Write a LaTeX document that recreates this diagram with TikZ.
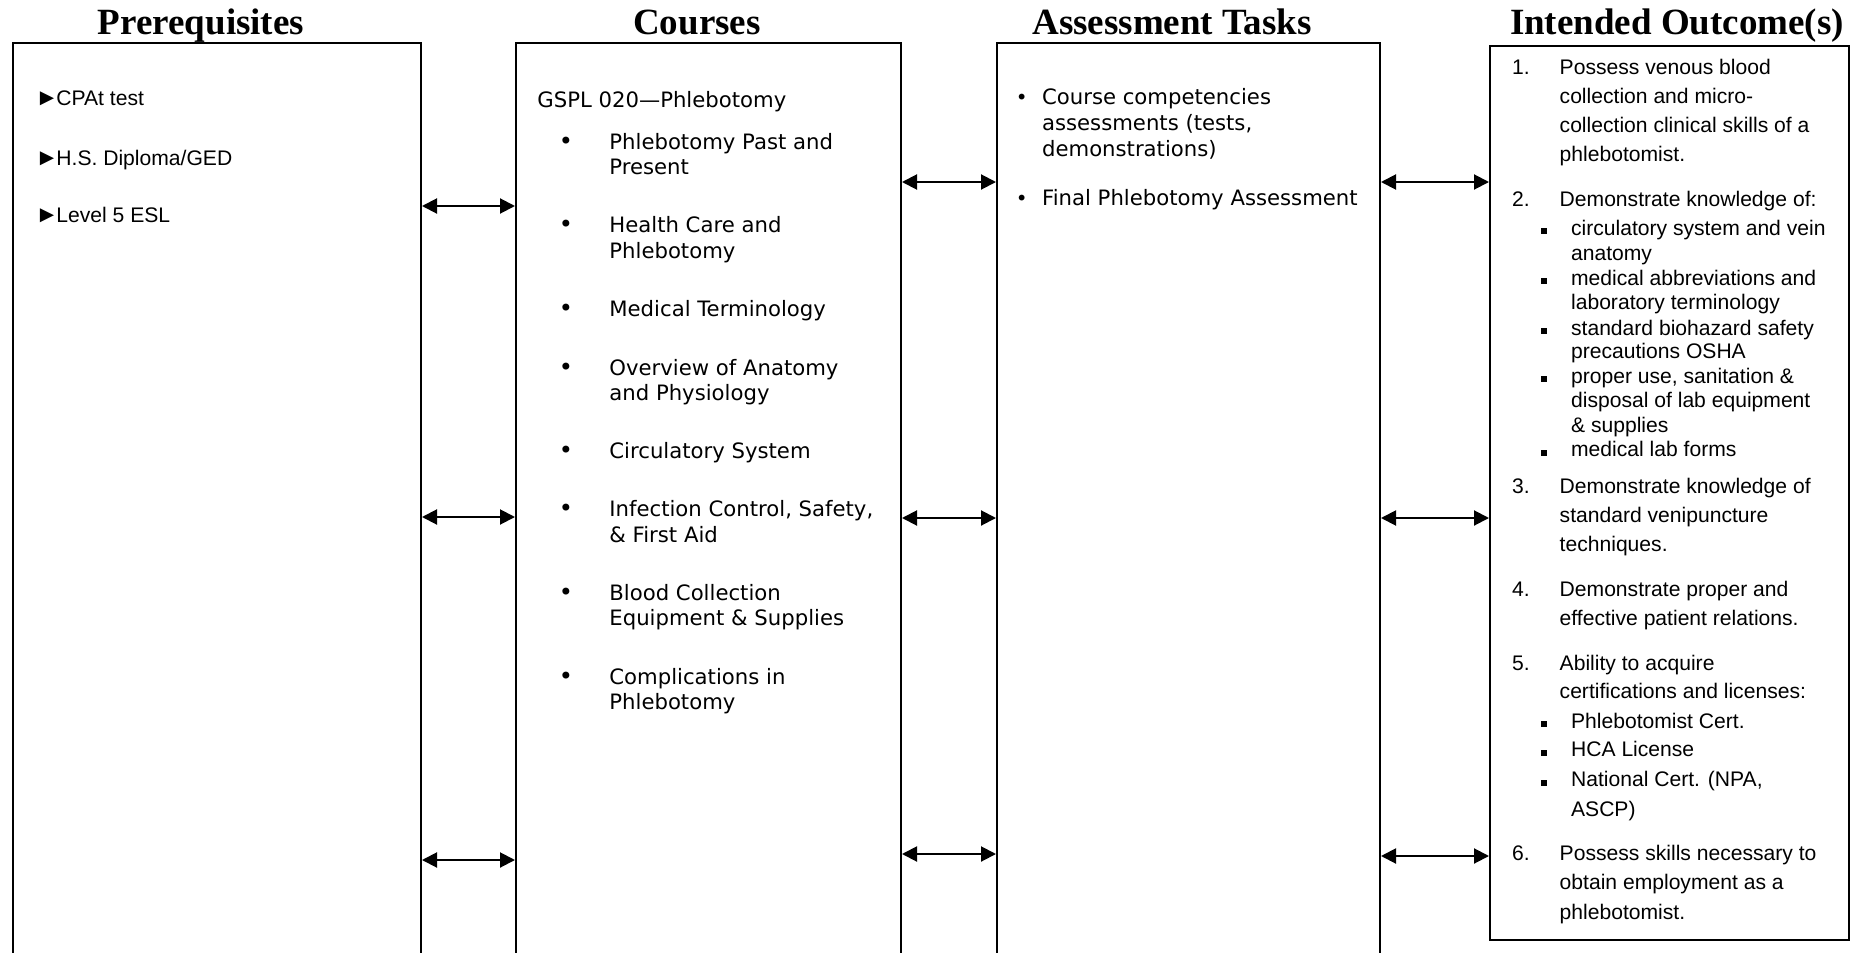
\documentclass[tikz,border=0pt]{standalone}
\usepackage{fontspec}
\setmainfont{Liberation Serif}
\newfontfamily\arialf{Liberation Sans}
\newfontfamily\verdf{DejaVu Sans}
\usetikzlibrary{arrows.meta,fit}
\tikzset{
  box/.style={draw, line width=1pt, inner sep=0pt},
  head/.style={anchor=base, inner sep=0pt, font=\bfseries\fontsize{18.5}{22}\selectfont},
  ar/.style={anchor=base west, inner sep=0pt, font=\arialf\fontsize{10.55}{12}\selectfont},
  vd/.style={anchor=base west, inner sep=0pt, font=\verdf\fontsize{10.6}{12.8}\selectfont},
  vbul/.style={anchor=base, inner sep=0pt, font=\verdf\fontsize{12}{12.8}\selectfont},
  abul/.style={anchor=base, inner sep=0pt, font=\verdf\fontsize{10}{12.8}\selectfont},
  sq/.style={fill=black, inner sep=0pt, minimum size=3pt},
  tri/.style={anchor=base west, inner sep=0pt, font=\arialf\fontsize{11.8}{12}\selectfont},
  dbl/.style={{Triangle[length=7.5pt,width=7.5pt]}-{Triangle[length=7.5pt,width=7.5pt]}, line width=1pt},
}
\begin{document}
\begin{tikzpicture}[x=0.5pt,y=-0.5pt]
\useasboundingbox (0,0) rectangle (1854,953);
\clip (0,0) rectangle (1854,953);

% headings
\node[head] (h1) at (201,34) {Prerequisites};
\node[head] (h2) at (697,34) {Courses};
\node[head] (h3) at (1172,34) {Assessment Tasks};
\node[head] (h4) at (1677,34) {Intended Outcome(s)};

% boxes
\node[box, fit={(13,42.5) (421,985)}] (b1) {};
\node[box, fit={(516,42.5) (901,985)}] (b2) {};
\node[box, fit={(997,42.5) (1380,985)}] (b3) {};
\node[box, fit={(1490,46) (1849,940)}] (b4) {};

% connectors
\foreach \y in {206,517,860} \draw[dbl] (b1.east |- 0,\y) -- (b2.west |- 0,\y);
\foreach \y in {182,518,854} \draw[dbl] (b2.east |- 0,\y) -- (b3.west |- 0,\y);
\foreach \y in {182,518,856} \draw[dbl] (b3.east |- 0,\y) -- (b4.west |- 0,\y);

% prerequisites
\foreach \y/\t [count=\i] in {105/CPAt test,165.8/{H.S. Diploma/GED},222.6/Level 5 ESL}{
  \node[tri] (pm\i) at (35,\y) {►};
  \node[ar] (p\i) at (56,\y) {\t};
}

% courses
\node[vd] (cg) at (537,107.7) {GSPL 020—Phlebotomy};
\foreach \y/\t [count=\i] in {149.3/Phlebotomy Past and,174.9/Present,232.7/Health Care and,258.3/Phlebotomy,316.7/Medical Terminology,375/Overview of Anatomy,400.7/and Physiology,458.3/Circulatory System,516.7/{Infection Control, Safety,},542.3/{\& First Aid},600/Blood Collection,625.7/{Equipment \& Supplies},684/Complications in,709.7/Phlebotomy}
  \node[vd] (cl\i) at (609,\y) {\t};
\foreach \y [count=\i] in {149.3,232.7,316.7,375,458.3,516.7,600,684}
  \node[vbul] (cb\i) at (566,\y) {•};

% assessment tasks
\foreach \y/\t [count=\i] in {104/Course competencies,130/{assessments (tests,},156.7/{demonstrations)},205.7/Final Phlebotomy Assessment}
  \node[vd] (al\i) at (1041.7,\y) {\t};
\foreach \y [count=\i] in {104,205.7}
  \node[abul] (ab\i) at (1021.7,\y) {•};

% intended outcomes
\foreach \y/\t [count=\i] in {74.3/1.,206.7/2.,493.3/3.,596.7/4.,670/5.,860/6.}
  \node[ar] (on\i) at (1511.7,\y) {\t};
\foreach \y/\t [count=\i] in {74.3/Possess venous blood,103.3/collection and micro-,132.7/collection clinical skills of a,161.7/phlebotomist.,206.7/Demonstrate knowledge of:,493.3/Demonstrate knowledge of,522.7/standard venipuncture,551.7/techniques.,596.7/Demonstrate proper and,625.7/effective patient relations.,670/Ability to acquire,698.3/certifications and licenses:,860/Possess skills necessary to,889.3/obtain employment as a,919.3/phlebotomist.}
  \node[ar] (ol\i) at (1559.3,\y) {\t};
\foreach \y/\t [count=\i] in {235/circulatory system and vein,260/anatomy,285/medical abbreviations and,309.3/laboratory terminology,335/standard biohazard safety,358.3/precautions OSHA,383.3/{proper use, sanitation \&},407.7/disposal of lab equipment,432.7/{\& supplies},456.7/medical lab forms,728.3/Phlebotomist Cert.,756.7/HCA License,786.7/{National Cert. (NPA,},816.7/{ASCP)}}
  \node[ar] (os\i) at (1570.7,\y) {\t};
\foreach \y [count=\i] in {235,285,335,383.3,456.7,728.3,756.7,786.7}
  \node[sq] (sq\i) at (1544,\y-4) {};
\end{tikzpicture}
\end{document}
